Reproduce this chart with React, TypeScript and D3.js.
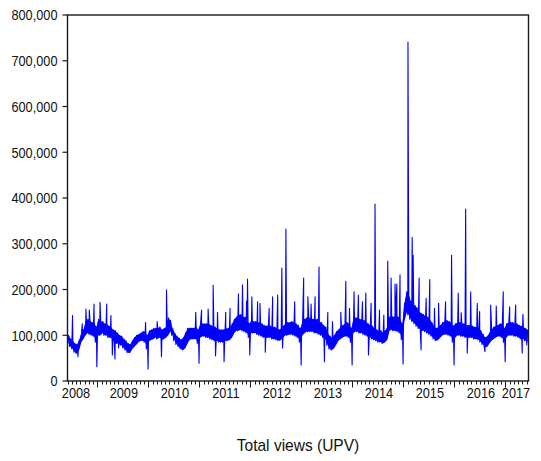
import React from "react";
import * as d3 from "d3";

// ---------- data (values in thousands of views) ----------
// Semi-monthly band of daily views: [low, high] per half-month.
const low2008 = [82, 75, 70, 63, 60, 68, 85, 92, 100, 105, 102, 100, 98, 85];
const high2008 = [100, 92, 88, 82, 80, 90, 105, 112, 130, 135, 132, 128, 128, 118];
const low2009 = [100, 100, 105, 100, 100, 95, 95, 88, 85, 82, 80, 78, 72, 68, 62, 62, 70, 75, 80, 85, 88, 88, 85, 70];
const high2009 = [135, 130, 130, 125, 125, 120, 118, 112, 110, 105, 100, 98, 92, 88, 82, 80, 88, 95, 100, 102, 105, 108, 108, 100];
const low2010 = [88, 90, 92, 95, 92, 95, 90, 92, 95, 100, 108, 100, 88, 80, 75, 70, 68, 72, 82, 90, 92, 92, 92, 82];
const high2010 = [110, 112, 115, 115, 115, 118, 112, 115, 118, 138, 132, 115, 105, 98, 94, 90, 95, 105, 115, 116, 116, 116, 118, 112];
const low2011 = [95, 98, 98, 95, 95, 92, 90, 88, 88, 85, 85, 85, 88, 88, 90, 95, 105, 110, 110, 112, 110, 108, 105, 95];
const high2011 = [125, 125, 125, 125, 125, 122, 120, 118, 115, 112, 112, 112, 115, 115, 118, 125, 135, 140, 145, 145, 140, 140, 135, 125];
const low2012 = [105, 105, 105, 102, 100, 98, 95, 95, 95, 95, 92, 92, 90, 88, 90, 95, 100, 100, 102, 102, 100, 98, 95, 85];
const high2012 = [132, 130, 130, 128, 128, 125, 122, 120, 122, 120, 118, 118, 115, 112, 115, 120, 125, 128, 128, 130, 128, 125, 122, 115];
const low2013 = [100, 105, 108, 108, 108, 108, 105, 105, 102, 100, 95, 90, 78, 70, 68, 72, 80, 88, 92, 95, 98, 98, 95, 85];
const high2013 = [130, 135, 138, 138, 138, 135, 135, 135, 130, 128, 122, 118, 105, 98, 95, 100, 108, 112, 118, 122, 125, 128, 125, 115];
const low2014 = [105, 108, 108, 105, 105, 102, 100, 98, 95, 92, 90, 88, 85, 85, 82, 85, 90, 110, 112, 110, 110, 108, 105, 90];
const high2014 = [135, 138, 138, 135, 135, 132, 130, 125, 122, 120, 115, 112, 110, 110, 105, 110, 118, 140, 142, 140, 142, 140, 135, 125];
const low2015 = [130, 150, 145, 135, 130, 125, 120, 115, 112, 110, 108, 105, 102, 98, 92, 88, 90, 95, 100, 102, 102, 100, 98, 85];
const high2015 = [170, 195, 190, 175, 170, 165, 160, 152, 148, 145, 142, 140, 135, 128, 120, 115, 118, 122, 128, 130, 132, 130, 128, 120];
const low2016 = [95, 100, 100, 98, 98, 95, 95, 95, 95, 92, 92, 90, 85, 80, 75, 75, 82, 88, 92, 95, 98, 98, 95, 85];
const high2016 = [125, 128, 128, 126, 125, 122, 122, 122, 120, 118, 118, 115, 110, 102, 95, 98, 105, 112, 118, 120, 122, 125, 125, 115];
const low2017 = [95, 100, 100, 100, 98, 98, 95, 92, 92, 88, 85];
const high2017 = [125, 128, 128, 128, 125, 125, 122, 120, 118, 115, 112];

// Single-day spikes and dips (date, thousands of views)
const spikes: [string, number][] = [
  ["2008-07-07", 143], ["2008-08-15", 53], ["2008-09-15", 125], ["2008-10-11", 157], ["2008-11-04", 155], ["2008-12-08", 168], ["2008-12-28", 31],
  ["2009-01-20", 172], ["2009-03-09", 168], ["2009-04-08", 143], ["2009-04-18", 57], ["2009-05-07", 48], ["2009-06-02", 72], ["2009-12-12", 128], ["2009-12-30", 26],
  ["2010-03-05", 130], ["2010-04-05", 53], ["2010-05-11", 199], ["2010-12-06", 150], ["2010-12-30", 39],
  ["2011-01-17", 155], ["2011-03-05", 157], ["2011-04-10", 209], ["2011-04-27", 55], ["2011-05-11", 150], ["2011-06-27", 42], ["2011-07-09", 150], ["2011-08-09", 159], ["2011-10-08", 190], ["2011-11-06", 210], ["2011-12-05", 175], ["2011-12-12", 223], ["2011-12-28", 57],
  ["2012-01-12", 184], ["2012-02-22", 173], ["2012-03-10", 170], ["2012-04-17", 63], ["2012-05-15", 159], ["2012-06-09", 184], ["2012-07-15", 188], ["2012-08-14", 247], ["2012-08-19", 72], ["2012-09-12", 332], ["2012-11-14", 173], ["2012-12-30", 35],
  ["2013-01-17", 225], ["2013-02-16", 184], ["2013-03-11", 168], ["2013-04-09", 184], ["2013-05-07", 249], ["2013-06-15", 42], ["2013-07-09", 150], ["2013-08-11", 130], ["2013-10-10", 150], ["2013-11-15", 218], ["2013-12-11", 159], ["2013-12-30", 35],
  ["2014-01-13", 195], ["2014-02-13", 188], ["2014-03-14", 173], ["2014-04-07", 192], ["2014-04-26", 57], ["2014-05-15", 170], ["2014-06-12", 387], ["2014-07-14", 155], ["2014-08-14", 144], ["2014-09-11", 262], ["2014-10-05", 225], ["2014-11-02", 212], ["2014-11-15", 212], ["2014-12-08", 232], ["2014-12-30", 37],
  ["2015-02-03", 741], ["2015-03-05", 314], ["2015-03-12", 275], ["2015-04-24", 225], ["2015-05-08", 68], ["2015-06-13", 181], ["2015-07-09", 222], ["2015-08-12", 159], ["2015-09-10", 170], ["2015-10-30", 173], ["2015-12-12", 275], ["2015-12-30", 35],
  ["2016-01-29", 192], ["2016-02-19", 149], ["2016-03-22", 376], ["2016-04-02", 61], ["2016-04-27", 195], ["2016-06-13", 170], ["2016-06-30", 152], ["2016-08-07", 64], ["2016-09-17", 166], ["2016-10-27", 164], ["2016-12-16", 195], ["2016-12-30", 42],
  ["2017-01-31", 162], ["2017-03-15", 166], ["2017-05-01", 61], ["2017-05-06", 146], ["2017-06-02", 79],
];

const yearLabels = ["2008", "2009", "2010", "2011", "2012", "2013", "2014", "2015", "2016", "2017"];
const yTickValues = [0, 100000, 200000, 300000, 400000, 500000, 600000, 700000, 800000];
const title = "Total views (UPV)";

const bandYears = [
  { year: 2008, firstMonth: 5, low: low2008, high: high2008 },
  { year: 2009, firstMonth: 0, low: low2009, high: high2009 },
  { year: 2010, firstMonth: 0, low: low2010, high: high2010 },
  { year: 2011, firstMonth: 0, low: low2011, high: high2011 },
  { year: 2012, firstMonth: 0, low: low2012, high: high2012 },
  { year: 2013, firstMonth: 0, low: low2013, high: high2013 },
  { year: 2014, firstMonth: 0, low: low2014, high: high2014 },
  { year: 2015, firstMonth: 0, low: low2015, high: high2015 },
  { year: 2016, firstMonth: 0, low: low2016, high: high2016 },
  { year: 2017, firstMonth: 0, low: low2017, high: high2017 },
];

// ---------- layout ----------
const W = 541;
const H = 461;
const L = 67.5, R = 528.5, T = 15, B = 381;
const START = Date.UTC(2008, 5, 1);
const END = Date.UTC(2017, 5, 15);

type Pt = { t: number; v: number };
type Band = { t: number; lo: number; hi: number };

function halfMonth(year: number, firstMonth: number, i: number) {
  const m = firstMonth + Math.floor(i / 2);
  const mStart = Date.UTC(year, m, 1);
  const mEnd = Date.UTC(year, m + 1, 1);
  const q = (mEnd - mStart) / 4;
  return { base: mStart + (i % 2) * 2 * q, q };
}

function buildBand(): Band[] {
  const out: Band[] = [];
  for (const b of bandYears) {
    b.low.forEach((lo, i) => {
      const { base, q } = halfMonth(b.year, b.firstMonth, i);
      out.push({ t: base + q, lo: lo * 1000, hi: b.high[i] * 1000 });
    });
  }
  return out;
}

function buildSeries(): Pt[] {
  const pts: Pt[] = [];
  for (const b of bandYears) {
    b.low.forEach((lo, i) => {
      const { base, q } = halfMonth(b.year, b.firstMonth, i);
      pts.push({ t: base + q * 0.1, v: lo * 1000 });
      pts.push({ t: base + q * 1.1, v: b.high[i] * 1000 });
    });
  }
  for (const [d, v] of spikes) pts.push({ t: Date.parse(d), v: v * 1000 });
  pts.sort((a, b) => a.t - b.t);
  return pts;
}

const FONT = "'Liberation Sans', Arial, sans-serif";

export default function App() {
  const x = d3.scaleUtc().domain([START, END]).range([L, R]);
  const y = d3.scaleLinear().domain([0, 800000]).range([B, T]);
  const series = buildSeries();
  const band = buildBand();
  const line = d3
    .line<Pt>()
    .x((d) => x(d.t))
    .y((d) => y(d.v));
  const area = d3
    .area<Band>()
    .x((d) => x(d.t))
    .y0((d) => y(d.lo))
    .y1((d) => y(d.hi));
  const months = d3.utcMonth.range(new Date(START), new Date(END));
  const fmt = d3.format(",");

  return (
    <svg
      width={W}
      height={H}
      viewBox={`0 0 ${W} ${H}`}
      style={{ position: "absolute", left: 0, top: 0, background: "#fff" }}
    >
      <rect x={0} y={0} width={W} height={H} fill="#fff" />
      {/* data */}
      <path d={area(band) || ""} fill="#0000ff" stroke="none" />
      <path d={line(series) || ""} fill="none" stroke="#0000ff" strokeWidth={1.1} strokeLinejoin="round" />
      {/* frame */}
      <rect x={L} y={T} width={R - L} height={B - T} fill="none" stroke="#1a1a1a" strokeWidth={1.4} />
      {/* y axis */}
      {yTickValues.map((v) => (
        <g key={v}>
          <line x1={L - 5} x2={L} y1={y(v)} y2={y(v)} stroke="#1a1a1a" strokeWidth={1.2} />
          <text
            transform={`translate(57.5,${y(v) + 5.3}) scale(0.85,1)`}
            textAnchor="end"
            fontFamily={FONT}
            fontSize={15}
            fill="#111"
          >
            {fmt(v)}
          </text>
        </g>
      ))}
      {/* x axis ticks */}
      {months.map((m) => {
        const major = m.getUTCMonth() === 0;
        const xx = Math.round(x(m)) + 0.5;
        return (
          <line
            key={m.getTime()}
            x1={xx}
            x2={xx}
            y1={B}
            y2={B + (major ? 6.5 : 3.5)}
            stroke="#1a1a1a"
            strokeWidth={1}
          />
        );
      })}
      {yearLabels.map((lab) => {
        const yr = +lab;
        const mid = x(new Date((Date.UTC(yr, 0, 1) + Date.UTC(yr + 1, 0, 1)) / 2)) + 1;
        const cx = Math.max(76, Math.min(516, mid));
        return (
          <text
            key={lab}
            transform={`translate(${cx},398) scale(0.85,1)`}
            textAnchor="middle"
            fontFamily={FONT}
            fontSize={15}
            fill="#111"
          >
            {lab}
          </text>
        );
      })}
      <text
        transform={`translate(${(L + R) / 2},451) scale(0.97,1)`}
        textAnchor="middle"
        fontFamily={FONT}
        fontSize={16}
        fill="#111"
      >
        {title}
      </text>
    </svg>
  );
}
